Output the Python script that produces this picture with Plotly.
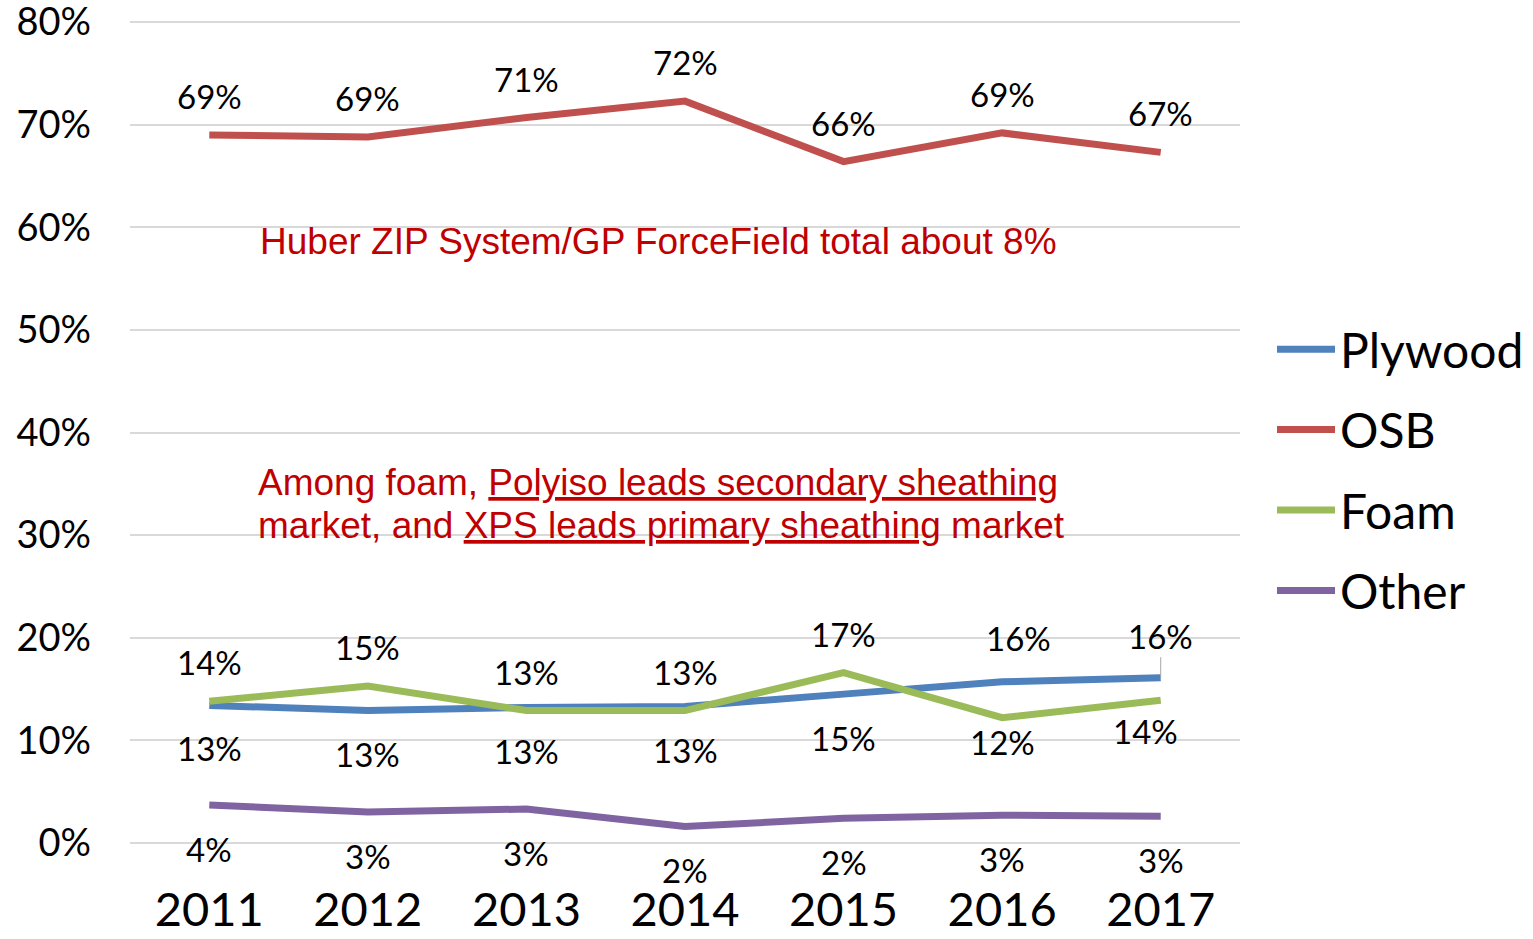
import plotly.graph_objects as go

years = ["2011", "2012", "2013", "2014", "2015", "2016", "2017"]
plywood = [13.4, 12.9, 13.2, 13.3, 14.5, 15.7, 16.1]
osb = [69.0, 68.8, 70.7, 72.3, 66.4, 69.2, 67.3]
foam = [13.8, 15.3, 12.9, 12.9, 16.6, 12.2, 13.9]
other = [3.7, 3.0, 3.3, 1.6, 2.4, 2.7, 2.6]

plywood_lbl = ["13%", "13%", "13%", "13%", "15%", "16%", "16%"]
osb_lbl = ["69%", "69%", "71%", "72%", "66%", "69%", "67%"]
foam_lbl = ["14%", "15%", "13%", "13%", "17%", "12%", "14%"]
other_lbl = ["4%", "3%", "3%", "2%", "2%", "3%", "3%"]

y_ticks = [0, 10, 20, 30, 40, 50, 60, 70, 80]
y_tick_text = ["0%", "10%", "20%", "30%", "40%", "50%", "60%", "70%", "80%"]

# label offsets (pixels) relative to data point
plywood_dy = [-43, -43, -44, -44, -44, 44, 42]
plywood_dx = [0, 0, 0, 0, 0, 16, 0]
foam_dy = [39, 39, 39, 39, 39, -24, -31]
foam_dx = [0, 0, 0, 0, 0, 0, -15]
osb_dy = [39] * 7
other_dy = [-44] * 7

FONT = "Lato"
LBL = 33
series = [
    ("Plywood", plywood, "#4F81BD"),
    ("OSB", osb, "#C0504D"),
    ("Foam", foam, "#9BBB59"),
    ("Other", other, "#8064A2"),
]

fig = go.Figure()
for name, vals, col in series:
    fig.add_trace(go.Scatter(
        x=years, y=vals, mode="lines", name=name, legendgroup=name,
        line=dict(color=col, width=7), hoverinfo="skip"))

ann = []
def add_labels(vals, lbls, dys, dxs=None):
    for i, (v, t) in enumerate(zip(vals, lbls)):
        ann.append(dict(x=i, y=v, text=t, showarrow=False, yshift=dys[i],
                        xshift=(dxs[i] if dxs else 0),
                        font=dict(family=FONT, size=LBL, color="#000000")))

add_labels(osb, osb_lbl, osb_dy)
add_labels(foam, foam_lbl, foam_dy, foam_dx)
add_labels(other, other_lbl, other_dy)
for i, (v, t) in enumerate(zip(plywood, plywood_lbl)):
    if i == 6:
        ann.append(dict(x=i, y=v, text=t, showarrow=True, arrowhead=0,
                        arrowwidth=1, arrowcolor="#A6A6A6", ax=0, ay=-plywood_dy[i],
                        font=dict(family=FONT, size=LBL, color="#000000")))
    else:
        ann.append(dict(x=i, y=v, text=t, showarrow=False, yshift=plywood_dy[i],
                        xshift=plywood_dx[i],
                        font=dict(family=FONT, size=LBL, color="#000000")))

# page body margin removed below, so figure coords == screen coords.
# target: x 130..1240, value 0 at y=843, value 80 at y=22
W, H = 1533, 939
PAD = 0.4                       # small range padding so edge gridlines get drawn
Y0, Y1 = -PAD, 80 + PAD
PXV = (843 - 22) / 80
top_scr = 22 - PAD * PXV
bot_scr = 843 + PAD * PXV
plot_h = bot_scr - top_scr

def px(xp):
    return (xp - 130) / 1110
def py(yp):
    return (bot_scr - yp) / plot_h

red = "#C00000"
RF = dict(family="Liberation Sans, Arial", size=37, color=red)
ul = "<span style=\"text-decoration:underline\">%s</span>"
ann.append(dict(xref="paper", yref="paper", x=px(258), y=py(241),
                xanchor="left", yanchor="middle", showarrow=False,
                text="Huber ZIP System/GP ForceField total about 8%", font=RF))
ann.append(dict(xref="paper", yref="paper", x=px(256), y=py(483),
                xanchor="left", yanchor="middle", showarrow=False,
                text="Among foam, " + ul % "Polyiso leads secondary sheathing", font=RF))
ann.append(dict(xref="paper", yref="paper", x=px(256), y=py(526),
                xanchor="left", yanchor="middle", showarrow=False,
                text="market, and " + ul % "XPS leads primary sheathing" + " market", font=RF))

fig.update_layout(
    width=W, height=H,
    margin=dict(l=130, r=W - 1240, t=top_scr, b=H - bot_scr),
    paper_bgcolor="white", plot_bgcolor="white",
    showlegend=True,
    legend=dict(xref="container", x=1272 / W, xanchor="left",
                yref="paper", y=py(470), yanchor="middle",
                font=dict(family=FONT, size=48, color="#000000"),
                tracegroupgap=15, traceorder="grouped", itemwidth=58,
                bgcolor="rgba(0,0,0,0)"),
    annotations=ann,
    font=dict(family=FONT),
)
fig.update_xaxes(type="category", range=[-0.5, 6.5], showgrid=False, zeroline=False,
                 showline=False, ticks="", ticklabelstandoff=31, automargin=False,
                 ticklabeloverflow="allow",
                 tickfont=dict(family=FONT, size=47, color="#000000"))
fig.update_yaxes(range=[Y0, Y1], tickvals=y_ticks, ticktext=y_tick_text,
                 showgrid=True, gridcolor="#D9D9D9", gridwidth=2, zeroline=False,
                 showline=False, ticks="", ticklabelstandoff=38, automargin=False,
                 ticklabeloverflow="allow",
                 tickfont=dict(family=FONT, size=38, color="#000000"))

fig.write_html("out.html",
               config={"displayModeBar": False},
               post_script="document.body.style.margin='0';document.body.style.overflow='hidden';")
